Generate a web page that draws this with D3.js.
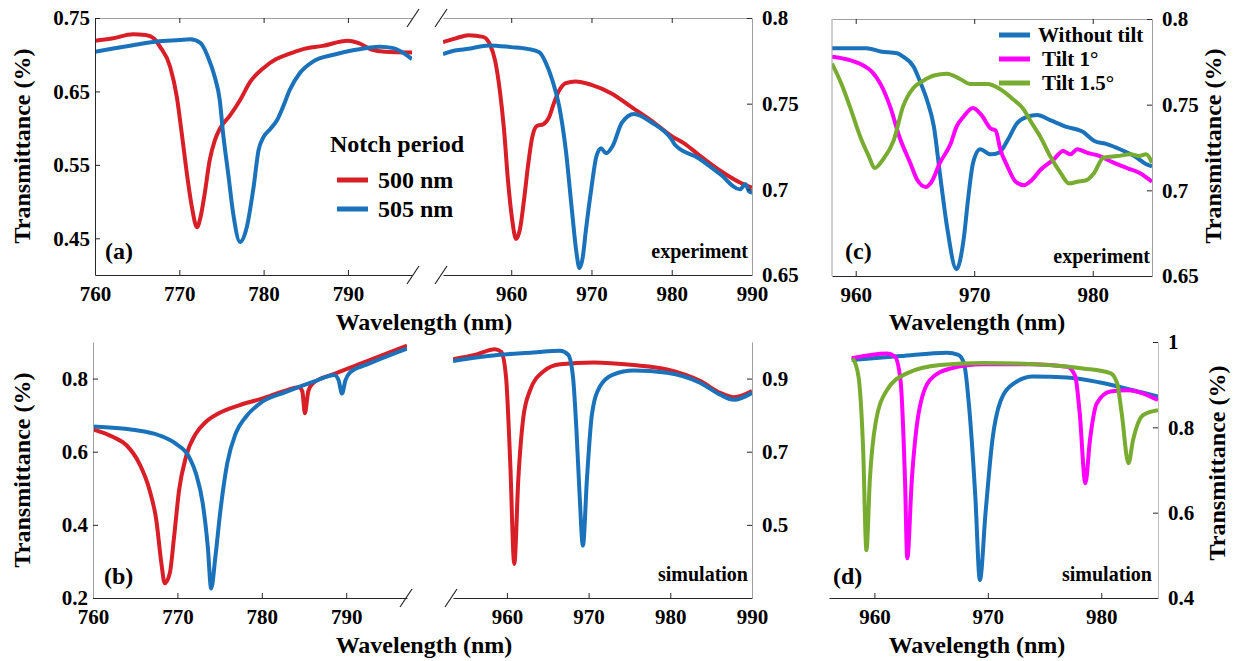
<!DOCTYPE html>
<html>
<head>
<meta charset="utf-8">
<script src="https://cdn.jsdelivr.net/npm/d3@7"></script>
<style>
  body { margin: 0; background: #fff; }
</style>
</head>
<body>
<script>
// ---- data (wavelength nm, transmittance) ----
const aRed500Left = [[760,0.719],[762,0.722],[764.5,0.728],[766,0.727],[767,0.722],[767.7,0.711],[768.9,0.684],[769.7,0.643],[770.3,0.592],[770.9,0.538],[771.5,0.492],[772.1,0.465],[772.5,0.478],[773.0,0.510],[773.6,0.556],[774.2,0.583],[774.8,0.599],[776.0,0.617],[777.2,0.638],[778.4,0.663],[780.0,0.682],[781.5,0.694],[783,0.701],[784.5,0.707],[787,0.712],[790,0.719],[791.2,0.716],[792.8,0.707],[794.4,0.704],[797.6,0.703]];
const aBlue505Left = [[760,0.704],[762,0.708],[764.5,0.713],[767.3,0.718],[770,0.720],[771.3,0.721],[772.5,0.716],[773.4,0.697],[774.2,0.670],[774.8,0.638],[775.2,0.592],[775.8,0.538],[776.4,0.483],[777.2,0.445],[778.0,0.465],[778.8,0.519],[779.4,0.570],[780.0,0.588],[780.8,0.599],[781.6,0.611],[782.3,0.629],[783.1,0.652],[784.3,0.675],[785.9,0.691],[788.3,0.700],[790.6,0.706],[793.8,0.711],[795.4,0.709],[797.6,0.694]];
const aRed500Right = [[951.5,0.786],[953,0.788],[954.7,0.790],[956.5,0.789],[957.3,0.785],[958,0.775],[958.6,0.757],[959.1,0.735],[959.6,0.705],[960.1,0.683],[960.6,0.671],[961.1,0.677],[961.6,0.694],[962.1,0.714],[962.6,0.730],[963.2,0.737],[964,0.738],[964.7,0.742],[965.3,0.750],[965.9,0.757],[966.8,0.762],[968,0.763],[970,0.761],[972.5,0.756],[975,0.748],[977.5,0.740],[980,0.731],[981.5,0.727],[983.4,0.720],[986,0.711],[988.5,0.704],[990,0.701]];
const aBlue505Right = [[951.5,0.779],[953,0.781],[954.7,0.782],[957.2,0.784],[960,0.783],[962,0.782],[963.5,0.780],[964.3,0.774],[965.1,0.764],[966,0.748],[966.8,0.723],[967.6,0.686],[968.1,0.664],[968.5,0.654],[968.9,0.660],[969.3,0.676],[970,0.701],[970.6,0.719],[971.2,0.724],[971.8,0.721],[972.6,0.725],[973.8,0.739],[975.3,0.744],[977.5,0.739],[980,0.729],[980.4,0.726],[983.4,0.718],[986,0.709],[988.5,0.700],[989.2,0.703],[989.6,0.699],[990,0.698]];

const cNoTilt = [[958,0.783],[960.9,0.783],[962.1,0.781],[963.5,0.780],[964.0,0.778],[964.9,0.772],[965.4,0.764],[966.0,0.753],[966.6,0.737],[967.1,0.710],[967.7,0.679],[968.5,0.654],[969.1,0.671],[969.5,0.696],[969.9,0.716],[970.5,0.724],[971.4,0.721],[972.1,0.722],[972.8,0.729],[973.6,0.739],[974.5,0.743],[975.3,0.744],[976.4,0.741],[977.8,0.737],[979.2,0.734],[980.1,0.729],[981.2,0.727],[982.3,0.724],[983.5,0.720],[984.6,0.715],[985,0.714]];
const cTilt1 = [[958,0.778],[959.5,0.776],[960.6,0.773],[961.4,0.769],[962.1,0.762],[962.9,0.749],[963.7,0.731],[964.6,0.716],[965.2,0.706],[965.9,0.702],[966.4,0.705],[967.1,0.716],[968.0,0.727],[968.5,0.737],[969.1,0.743],[969.9,0.748],[970.6,0.744],[971.4,0.736],[971.8,0.735],[972.2,0.724],[972.8,0.714],[973.5,0.705],[974.2,0.703],[974.7,0.705],[975.6,0.712],[976.7,0.718],[977.5,0.723],[978.1,0.721],[978.7,0.724],[979.5,0.722],[980.6,0.720],[981.8,0.716],[982.9,0.713],[984.0,0.710],[985,0.705]];
const cTilt15 = [[958,0.774],[958.8,0.762],[959.5,0.749],[960.4,0.731],[961.1,0.720],[961.6,0.713],[962.3,0.718],[963.2,0.729],[964.0,0.749],[964.9,0.760],[965.7,0.764],[966.6,0.767],[967.7,0.768],[968.8,0.765],[969.7,0.762],[971.1,0.762],[972.2,0.759],[973.3,0.753],[974.2,0.747],[974.7,0.741],[975.6,0.731],[976.4,0.720],[977.3,0.710],[978.0,0.704],[978.7,0.705],[979.5,0.706],[980.1,0.710],[980.9,0.719],[982.1,0.720],[983.2,0.721],[983.9,0.720],[984.5,0.721],[985,0.716]];

const bRed500Left = [[760,0.661],[762.4,0.640],[764,0.617],[765.5,0.567],[766.7,0.495],[767.5,0.413],[768.1,0.295],[768.5,0.240],[769.1,0.268],[769.6,0.366],[770.2,0.495],[771,0.585],[772.2,0.650],[773.3,0.680],[774.9,0.705],[777.3,0.727],[780,0.745],[782.8,0.767],[784.4,0.776],[784.8,0.765],[785.1,0.705],[785.5,0.765],[786,0.786],[788.5,0.812],[792.4,0.847],[797.2,0.890]];
const bBlue505Left = [[760,0.669],[764.7,0.660],[767.8,0.645],[769.8,0.622],[771.4,0.585],[772.2,0.540],[773,0.459],[773.6,0.340],[774,0.226],[774.5,0.313],[775.1,0.440],[775.9,0.568],[776.9,0.650],[778.1,0.695],[780,0.736],[782.8,0.763],[786.3,0.793],[788.6,0.810],[789.1,0.795],[789.5,0.759],[789.9,0.795],[790.5,0.818],[792.4,0.838],[797.2,0.882]];
const bRed500Right = [[953.4,0.953],[956.3,0.966],[958.5,0.980],[959.3,0.973],[959.9,0.902],[960.4,0.673],[960.9,0.393],[961.4,0.627],[962,0.792],[962.8,0.866],[964.5,0.920],[966.5,0.939],[970.6,0.944],[975.5,0.937],[979.6,0.925],[983.7,0.893],[986.1,0.861],[987.8,0.849],[990,0.866]];
const bBlue505Right = [[953.4,0.948],[959.1,0.965],[963.2,0.971],[966.5,0.976],[967.5,0.965],[968.1,0.902],[968.5,0.764],[968.9,0.581],[969.3,0.443],[969.8,0.627],[970.4,0.801],[971.4,0.879],[973,0.911],[975.5,0.922],[979.6,0.916],[983.7,0.888],[986.1,0.856],[987.8,0.842],[990,0.861]];

const dNoTilt = [[958,0.958],[962.3,0.967],[966.4,0.975],[967.4,0.970],[967.9,0.950],[968.4,0.833],[968.9,0.637],[969.3,0.442],[969.8,0.600],[970.4,0.770],[971.1,0.860],[972.3,0.903],[974,0.919],[977,0.917],[979.9,0.905],[982.8,0.887],[985,0.872]];
const dTilt1 = [[958,0.962],[961.1,0.973],[961.8,0.966],[962.3,0.911],[962.7,0.677],[962.9,0.493],[963.3,0.677],[963.9,0.833],[964.9,0.911],[966.7,0.938],[969.6,0.948],[974,0.948],[977,0.942],[977.7,0.920],[978.1,0.833],[978.6,0.669],[979,0.770],[979.6,0.856],[980.8,0.884],[982.3,0.887],[985,0.864]];
const dTilt15 = [[958.1,0.962],[958.6,0.919],[959,0.755],[959.3,0.512],[959.6,0.677],[960.1,0.809],[961.1,0.887],[962.9,0.927],[965.8,0.946],[969.6,0.951],[974,0.948],[978.4,0.938],[980.8,0.927],[981.4,0.903],[981.8,0.833],[982.4,0.716],[982.8,0.770],[983.7,0.829],[985,0.840]];

const ticksNIR = [760, 770, 780, 790];
const ticksIR = [960, 970, 980, 990];
const ticksTilt = [960, 970, 980];
const aLeftTicks = [0.45, 0.55, 0.65, 0.75];
const expTicks = [0.65, 0.7, 0.75, 0.8];
const bLeftTicks = [0.2, 0.4, 0.6, 0.8];
const bRightTicks = [0.5, 0.7, 0.9];
const dTicks = [0.4, 0.6, 0.8, 1];

const RED = "#d81e26", BLUE = "#1a72bb", MAGENTA = "#ff00ff", GREEN = "#77ac30";
const DARK = "#262626", GREY = "#a0a0a0";
const FONT = '"Liberation Serif", "Times New Roman", serif';

const width = 1235, height = 661;
const svg = d3.select("body").append("svg")
    .attr("width", width).attr("height", height);

const line = (x, y) => d3.line().x(d => x(d[0])).y(d => y(d[1])).curve(d3.curveMonotoneX);

let clipId = 0;
function curves(x, y, series) {
  const id = "clip" + (clipId++);
  const [x0, x1] = x.range(), [y1, y0] = y.range();
  svg.append("clipPath").attr("id", id)
    .append("rect").attr("x", x0).attr("y", y0 - 2).attr("width", x1 - x0).attr("height", y1 - y0 + 4);
  const g = svg.append("g").attr("clip-path", `url(#${id})`)
      .attr("fill", "none").attr("stroke-width", 4).attr("stroke-linejoin", "round");
  series.forEach(s => g.append("path").datum(s.data).attr("stroke", s.color).attr("d", line(x, y)));
}

function styleAxis(g, lineColor) {
  g.select(".domain").attr("stroke", lineColor);
  g.selectAll(".tick line").attr("stroke", DARK);
  g.selectAll("text").attr("fill", "#000").style("font-size", "21px");
}

function bottomAxis(x, y0, ticks) {
  const g = svg.append("g").attr("transform", `translate(0,${y0})`)
    .call(d3.axisBottom(x).tickValues(ticks).tickSizeInner(-5).tickSizeOuter(0).tickPadding(11).tickFormat(d3.format("d")));
  styleAxis(g, DARK);
}

function sideAxis(kind, x0, y, ticks, lineColor) {
  const ax = (kind === "left" ? d3.axisLeft(y) : d3.axisRight(y))
    .tickValues(ticks).tickSizeInner(-5).tickSizeOuter(0)
    .tickPadding(kind === "left" ? 5 : 10).tickFormat(d => String(d));
  const g = svg.append("g").attr("transform", `translate(${x0},0)`).call(ax);
  styleAxis(g, lineColor);
}

function topTicks(x, y0, ticks) {
  const g = svg.append("g").attr("transform", `translate(0,${y0})`)
    .call(d3.axisTop(x).tickValues(ticks).tickSizeInner(-5).tickSizeOuter(0).tickFormat(""));
  g.select(".domain").attr("stroke", GREY);
  g.selectAll(".tick line").attr("stroke", DARK);
}

function slash(cx, cy) {
  svg.append("line").attr("x1", cx - 6).attr("y1", cy + 9).attr("x2", cx + 6).attr("y2", cy - 9)
    .attr("stroke", DARK).attr("stroke-width", 1.2);
}

function text(x, y, s, size, anchor, rotate) {
  const t = svg.append("text").style("font-size", size + "px").attr("text-anchor", anchor || "start").text(s);
  if (rotate) t.attr("transform", `translate(${x},${y}) rotate(-90)`);
  else t.attr("x", x).attr("y", y);
  return t;
}

// ---------------- panel (a) ----------------
const aTop = 18, aBot = 275;
const xaL = d3.scaleLinear().domain([760, 797.6]).range([95, 412]);
const xaR = d3.scaleLinear().domain([951.5, 990]).range([443, 752]);
const yaL = d3.scaleLinear().domain([0.40, 0.75]).range([aBot, aTop]);
const yaR = d3.scaleLinear().domain([0.65, 0.80]).range([aBot, aTop]);

curves(xaL, yaL, [{data: aRed500Left, color: RED}, {data: aBlue505Left, color: BLUE}]);
curves(xaR, yaR, [{data: aRed500Right, color: RED}, {data: aBlue505Right, color: BLUE}]);
topTicks(xaL, aTop, ticksNIR);
topTicks(xaR, aTop, ticksIR.slice(0, 3));
bottomAxis(xaL, aBot, ticksNIR);
bottomAxis(xaR, aBot, ticksIR);
sideAxis("left", 95, yaL, aLeftTicks, DARK);
sideAxis("right", 752, yaR, expTicks, GREY);
[413, 441].forEach(cx => { slash(cx, aTop); slash(cx, aBot); });

text(22, 146, "Transmittance (%)", 24, "middle", true).attr("dy", "0.35em");
text(424, 330, "Wavelength (nm)", 24, "middle");
text(105, 259, "(a)", 24);
text(748, 258, "experiment", 20, "end");

// legend (a)
text(330, 152, "Notch period", 24);
[["500 nm", RED, 180], ["505 nm", BLUE, 209]].forEach(([lab, col, yy]) => {
  svg.append("line").attr("x1", 337).attr("x2", 368).attr("y1", yy).attr("y2", yy)
    .attr("stroke", col).attr("stroke-width", 5);
  text(378, yy + 8, lab, 24);
});

// ---------------- panel (c) ----------------
const cTop = 19, cBot = 276;
const xc = d3.scaleLinear().domain([958, 985]).range([832, 1152]);
const yc = d3.scaleLinear().domain([0.65, 0.80]).range([cBot, cTop]);
curves(xc, yc, [{data: cNoTilt, color: BLUE}, {data: cTilt1, color: MAGENTA}, {data: cTilt15, color: GREEN}]);
topTicks(xc, cTop, ticksTilt);
bottomAxis(xc, cBot, ticksTilt);
svg.append("line").attr("x1", 832).attr("x2", 832).attr("y1", cTop).attr("y2", cBot).attr("stroke", GREY);
sideAxis("right", 1152, yc, expTicks, GREY);
text(1213, 146, "Transmittance (%)", 24, "middle", true).attr("dy", "0.35em");
text(977, 330, "Wavelength (nm)", 24, "middle");
text(845, 259, "(c)", 24);
text(1150, 263, "experiment", 20, "end");

[["Without tilt", BLUE, 35, 1038], ["Tilt 1\u00b0", MAGENTA, 59, 1042], ["Tilt 1.5\u00b0", GREEN, 83, 1042]].forEach(([lab, col, yy, tx]) => {
  svg.append("line").attr("x1", 999).attr("x2", 1030).attr("y1", yy).attr("y2", yy)
    .attr("stroke", col).attr("stroke-width", 5);
  text(tx, yy + 7, lab, 21);
});

// ---------------- panel (b) ----------------
const bTop = 342, bBot = 598;
const xbL = d3.scaleLinear().domain([760, 797.2]).range([93, 407]);
const xbR = d3.scaleLinear().domain([953.4, 990]).range([453, 752]);
const ybL = d3.scaleLinear().domain([0.2, 0.9]).range([bBot, bTop]);
const ybR = d3.scaleLinear().domain([0.3, 1.0]).range([bBot, bTop]);
curves(xbL, ybL, [{data: bRed500Left, color: RED}, {data: bBlue505Left, color: BLUE}]);
curves(xbR, ybR, [{data: bRed500Right, color: RED}, {data: bBlue505Right, color: BLUE}]);
bottomAxis(xbL, bBot, ticksNIR);
bottomAxis(xbR, bBot, ticksIR);
sideAxis("left", 93, ybL, bLeftTicks, GREY);
sideAxis("right", 752, ybR, bRightTicks, GREY);
slash(406, bBot); slash(451, bBot);
text(22, 470, "Transmittance (%)", 24, "middle", true).attr("dy", "0.35em");
text(424, 653, "Wavelength (nm)", 24, "middle");
text(104, 584, "(b)", 24);
text(748, 581, "simulation", 20, "end");

// ---------------- panel (d) ----------------
const dTop = 342, dBot = 598;
const xd = d3.scaleLinear().domain([956, 985]).range([829, 1158]);
const yd = d3.scaleLinear().domain([0.4, 1.0]).range([dBot, dTop]);
curves(xd, yd, [{data: dNoTilt, color: BLUE}, {data: dTilt1, color: MAGENTA}, {data: dTilt15, color: GREEN}]);
bottomAxis(xd, dBot, ticksTilt);
sideAxis("right", 1158, yd, dTicks, "#c0c0c0");
text(1217, 463, "Transmittance (%)", 24, "middle", true).attr("dy", "0.35em");
text(977, 653, "Wavelength (nm)", 24, "middle");
text(833, 584, "(d)", 24);
text(1152, 581, "simulation", 20, "end");

// one serif face for every label, set inline so it wins over the axis defaults
svg.selectAll("text").style("font-family", FONT).style("font-weight", "bold");
</script>
</body>
</html>
